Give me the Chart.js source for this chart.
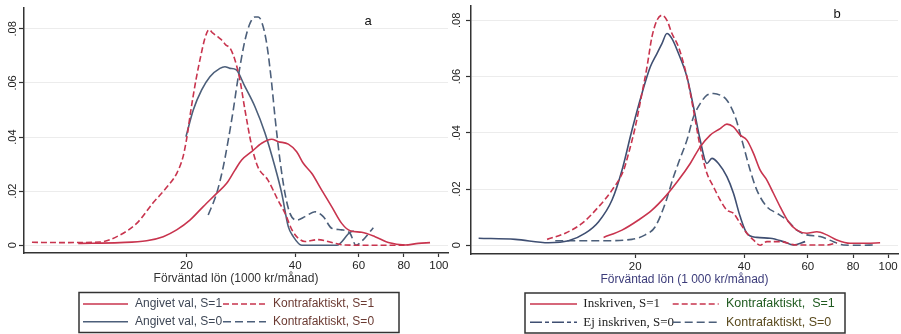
<!DOCTYPE html>
<html>
<head>
<meta charset="utf-8">
<script src="https://cdn.jsdelivr.net/npm/chart.js@4.4.1/dist/chart.umd.min.js"></script>
<style>
  body { margin: 0; background: #fff; }
  #wrap { position: relative; width: 901px; height: 334px; }
  canvas { position: absolute; top: 0; }
  #chartA { left: 0; }
  #chartB { left: 450px; }
</style>
</head>
<body>
<div id="wrap">
  <canvas id="chartA" width="450" height="334"></canvas>
  <canvas id="chartB" width="451" height="334"></canvas>
</div>
<script>
// shared ticks
const xTickVals = [20, 40, 60, 80, 100];
const yTickVals = [0, 0.02, 0.04, 0.06, 0.08];
const yTickLabels = ['0', '.02', '.04', '.06', '.08'];

// panel a: Angivet val / Kontrafaktiskt
const aActualS1X = [10.03, 13.09, 15.52, 17.25, 18.79, 20.45, 22.26, 24.25, 25.85, 27.25, 28.44, 30.31, 32.31, 34.44, 35.92, 38.29, 40.39, 42.13, 44.45, 47.38, 50.49, 53.82, 56.75, 61.14, 66.55, 72.45, 80.60, 87.73, 94.53];
const aActualS1Y = [0.0007, 0.0010, 0.0017, 0.0032, 0.0057, 0.0093, 0.0143, 0.0192, 0.0229, 0.0278, 0.0315, 0.0346, 0.0377, 0.0392, 0.0383, 0.0374, 0.0346, 0.0303, 0.0266, 0.0204, 0.0143, 0.0081, 0.0054, 0.0048, 0.0032, 0.0010, 0.0001, 0.0007, 0.0010];

const aCounterS1X = [7.47, 8.93, 11.52, 13.09, 14.59, 16.15, 17.66, 18.82, 19.56, 20.0, 20.58, 21.25, 21.94, 22.51, 23.09, 23.68, 24.45, 25.08, 25.73, 26.40, 27.25, 28.13, 29.05, 30.37, 31.56, 33.63, 35.85, 37.49, 39.20, 40.73, 42.59, 46.27, 50.59, 54.97, 63.65, 74.18, 82.15];
const aCounterS1Y = [0.0011, 0.0010, 0.0012, 0.0038, 0.0082, 0.0156, 0.0215, 0.0267, 0.0326, 0.0389, 0.0500, 0.0611, 0.0703, 0.0766, 0.0797, 0.0784, 0.0770, 0.0758, 0.0740, 0.0729, 0.0685, 0.0611, 0.0500, 0.0363, 0.0289, 0.0241, 0.0167, 0.0119, 0.0057, 0.0027, 0.0014, 0.0021, 0.0010, 0.0001, 0, 0, 0.0001];

const aActualS0X = [19.94, 20.89, 22.04, 23.23, 24.76, 25.57, 26.40, 27.43, 29.05, 30.96, 33.00, 35.17, 36.71, 38.29, 39.53, 41.70, 52.13, 56.75, 58.21];
const aActualS0Y = [0.0401, 0.0500, 0.0574, 0.0623, 0.0654, 0.0660, 0.0654, 0.0649, 0.0586, 0.0512, 0.0415, 0.0290, 0.0193, 0.0069, 0.0032, 0, 0, 0.0048, 0.0053];

const aCounterS0X = [22.98, 24.25, 25.29, 26.11, 26.96, 27.60, 28.13, 29.05, 29.99, 30.96, 31.62, 32.31, 33.36, 34.44, 35.17, 36.31, 37.49, 38.70, 40.39, 42.59, 45.39, 47.86, 50.49, 53.82, 56.75, 58.96, 61.26, 65.84];
const aCounterS0Y = [0.0112, 0.0192, 0.0290, 0.0389, 0.0500, 0.0592, 0.0660, 0.0758, 0.0820, 0.0844, 0.0844, 0.0826, 0.0746, 0.0598, 0.0475, 0.0315, 0.0192, 0.0118, 0.0093, 0.0106, 0.0124, 0.0106, 0.0063, 0.0057, 0.0044, 0, 0.0016, 0.0065];

// panel b: Inskriven / Ej inskriven
const bEnrolledX = [16.35, 18.38, 20.42, 22.24, 24.20, 26.34, 28.38, 30.24, 32.23, 34.34, 35.84, 37.37, 39.00, 40.70, 42.45, 44.29, 46.22, 48.20, 50.30, 53.03, 55.94, 59.61, 63.53, 67.70, 72.15, 78.52, 87.33, 95.03];
const bEnrolledY = [0.0028, 0.0054, 0.0090, 0.0125, 0.0173, 0.0232, 0.0291, 0.0350, 0.0392, 0.0415, 0.0431, 0.0421, 0.0392, 0.0374, 0.0327, 0.0267, 0.0232, 0.0185, 0.0137, 0.0084, 0.0054, 0.0043, 0.0048, 0.0037, 0.0019, 0.0007, 0.0007, 0.0009];

const bCounterS1X = [11.41, 12.81, 14.25, 15.84, 17.25, 18.57, 19.17, 20.00, 20.87, 21.55, 22.24, 22.96, 23.70, 24.47, 25.26, 26.34, 27.79, 28.98, 30.24, 31.56, 32.91, 34.34, 35.84, 37.37, 39.00, 40.70, 42.45, 44.29, 46.22, 50.30, 55.94, 67.70, 72.15];
const bCounterS1Y = [0.0021, 0.0043, 0.0078, 0.0137, 0.0196, 0.0267, 0.0327, 0.0421, 0.0540, 0.0634, 0.0741, 0.0800, 0.0818, 0.0800, 0.0753, 0.0705, 0.0599, 0.0480, 0.0350, 0.0256, 0.0208, 0.0161, 0.0125, 0.0114, 0.0078, 0.0043, 0.0019, 0, 0.0013, 0.0013, 0.0001, 0.0001, 0.0009];

const bNotEnrolledX = [7.38, 9.32, 11.52, 13.08, 14.55, 15.84, 17.25, 18.38, 19.58, 20.87, 22.00, 22.96, 23.70, 24.47, 25.26, 26.34, 27.79, 28.98, 30.24, 31.56, 32.58, 33.97, 35.84, 37.37, 39.00, 40.70, 43.37, 47.20, 51.37, 54.74, 58.97];
const bNotEnrolledY = [0.0025, 0.0021, 0.0009, 0.0016, 0.0043, 0.0084, 0.0161, 0.0267, 0.0409, 0.0540, 0.0634, 0.0682, 0.0717, 0.0753, 0.0735, 0.0682, 0.0599, 0.0492, 0.0374, 0.0291, 0.0309, 0.0291, 0.0244, 0.0185, 0.0102, 0.0043, 0.0028, 0.0025, 0.0013, 0.0001, 0.0013];

const bCounterS0X = [12.02, 15.84, 19.58, 21.31, 22.71, 24.20, 25.52, 26.63, 27.79, 28.98, 30.24, 31.56, 32.91, 34.34, 35.84, 37.78, 39.43, 41.56, 43.37, 46.22, 49.26, 52.49, 55.94, 59.61, 64.88, 70.60, 75.24, 83.68, 91.06];
const bCounterS0Y = [0.0016, 0.0016, 0.0021, 0.0037, 0.0066, 0.0149, 0.0244, 0.0310, 0.0374, 0.0457, 0.0504, 0.0534, 0.0540, 0.0534, 0.0516, 0.0457, 0.0374, 0.0267, 0.0196, 0.0137, 0.0114, 0.0090, 0.0054, 0.0037, 0.0031, 0.0013, 0.0001, 0, 0.0001];

const pts = (xs, ys) => xs.map((x, i) => ({ x: x, y: ys[i] }));

const RED = '#c8344e';
const BLUE = '#4c5f7a';
const SANS = '"Liberation Sans", Arial, sans-serif';
const SERIF = '"Liberation Serif", "Times New Roman", serif';

// legend in a framed box + panel letter, drawn on the canvas
const boxLegend = {
  id: 'boxLegend',
  afterDraw(chart, args, o) {
    const ctx = chart.ctx;
    ctx.save();
    ctx.strokeStyle = '#333';
    ctx.lineWidth = 1.5;
    ctx.strokeRect(o.box[0], o.box[1], o.box[2], o.box[3]);
    chart.data.datasets.forEach((ds, i) => {
      const col = o.cols[i % 2];
      const y = o.rows[Math.floor(i / 2)];
      ctx.beginPath();
      ctx.setLineDash(ds.legendDash || ds.borderDash || []);
      ctx.strokeStyle = ds.borderColor;
      ctx.lineWidth = 1.5;
      ctx.moveTo(col[0], y);
      ctx.lineTo(col[0] + col[1], y);
      ctx.stroke();
      ctx.setLineDash([]);
      ctx.font = ds.legendFont;
      ctx.fillStyle = ds.legendColor;
      ctx.textAlign = 'left';
      ctx.textBaseline = 'middle';
      ctx.fillText(ds.label, col[2], y);
    });
    ctx.font = '13px ' + SANS;
    ctx.fillStyle = '#111';
    ctx.textAlign = 'center';
    ctx.fillText(o.tag[0], o.tag[1], o.tag[2]);
    ctx.restore();
  }
};

function makeOptions(xRange, yRange, yWidth, yPad, pad, title, titleColor, legend) {
  return {
    responsive: false,
    animation: false,
    layout: { padding: pad },
    elements: { point: { radius: 0 }, line: { borderWidth: 1.6, cubicInterpolationMode: 'monotone' } },
    plugins: { legend: { display: false }, tooltip: { enabled: false }, boxLegend: legend },
    scales: {
      x: {
        type: 'logarithmic',
        min: xRange[0],
        max: xRange[1],
        afterBuildTicks: s => { s.ticks = xTickVals.map(v => ({ value: v })); },
        afterFit: s => { s.height = 40; s.paddingLeft = 0; s.paddingRight = 0; },
        ticks: { callback: v => String(v), color: '#222', font: { family: SANS, size: 11.5 }, padding: 2, maxRotation: 0, autoSkip: false },
        grid: { drawOnChartArea: false, tickLength: 4, tickColor: '#333', tickWidth: 1.2 },
        border: { color: '#333', width: 1.5 },
        title: { display: true, text: title, color: titleColor, font: { family: SANS, size: 12 }, padding: { top: 0, bottom: 7.5 } }
      },
      y: {
        min: yRange[0],
        max: yRange[1],
        afterBuildTicks: s => { s.ticks = yTickVals.map(v => ({ value: v })); },
        afterFit: s => { s.width = yWidth; s.paddingTop = 0; s.paddingBottom = 0; },
        ticks: { callback: (v, i) => yTickLabels[i], minRotation: 90, maxRotation: 90, crossAlign: 'center', padding: yPad, color: '#222', font: { family: SANS, size: 11 } },
        grid: { color: '#ececec', lineWidth: 1, tickLength: 5, tickColor: '#333', tickWidth: 1.2 },
        border: { color: '#333', width: 1.5 }
      }
    }
  };
}

new Chart(document.getElementById('chartA'), {
  type: 'line',
  data: {
    datasets: [
      { label: 'Angivet val, S=1', data: pts(aActualS1X, aActualS1Y), borderColor: RED, legendColor: '#3e4756', legendFont: '12px ' + SANS },
      { label: 'Kontrafaktiskt, S=1', data: pts(aCounterS1X, aCounterS1Y), borderColor: RED, borderDash: [6, 3], legendColor: '#6b3a32', legendFont: '12px ' + SANS },
      { label: 'Angivet val, S=0', data: pts(aActualS0X, aActualS0Y), borderColor: BLUE, legendColor: '#3e4756', legendFont: '12px ' + SANS },
      { label: 'Kontrafaktiskt, S=0', data: pts(aCounterS0X, aCounterS0Y), borderColor: BLUE, borderDash: [8, 4], legendColor: '#6b3a32', legendFont: '12px ' + SANS }
    ]
  },
  options: makeOptions([7.1, 106], [-0.00285, 0.0877], 24, -2, { left: 0, right: 2, top: 8, bottom: 41 },
    'Förväntad lön (1000 kr/månad)', '#333',
    { box: [79, 292.5, 320, 40], rows: [304, 321.7], cols: [[83, 45, 135], [223, 43, 273]], tag: ['a', 368, 21] }),
  plugins: [boxLegend]
});

new Chart(document.getElementById('chartB'), {
  type: 'line',
  data: {
    datasets: [
      { label: 'Inskriven, S=1', data: pts(bEnrolledX, bEnrolledY), borderColor: RED, legendColor: '#222', legendFont: '13px ' + SERIF },
      { label: 'Kontrafaktiskt,  S=1', data: pts(bCounterS1X, bCounterS1Y), borderColor: RED, borderDash: [6, 3], legendColor: '#1f5a1f', legendFont: '12.5px ' + SANS },
      { label: 'Ej inskriven, S=0', data: pts(bNotEnrolledX, bNotEnrolledY), borderColor: '#3f4f72', legendDash: [12, 3, 4, 3], legendColor: '#222', legendFont: '13px ' + SERIF },
      { label: 'Kontrafaktiskt, S=0', data: pts(bCounterS0X, bCounterS0Y), borderColor: BLUE, borderDash: [8, 4], legendColor: '#5a4a1e', legendFont: '12.5px ' + SANS }
    ]
  },
  options: makeOptions([7.03, 106.5], [-0.0031, 0.0851], 21, 1, { left: 0, right: 3, top: 6, bottom: 40 },
    'Förväntad lön (1 000 kr/månad)', '#3c3c7a',
    { box: [75, 293, 320, 40], rows: [304, 322.3], cols: [[80, 47, 133.3], [222.7, 46, 276]], tag: ['b', 387, 14] }),
  plugins: [boxLegend]
});
</script>
</body>
</html>
